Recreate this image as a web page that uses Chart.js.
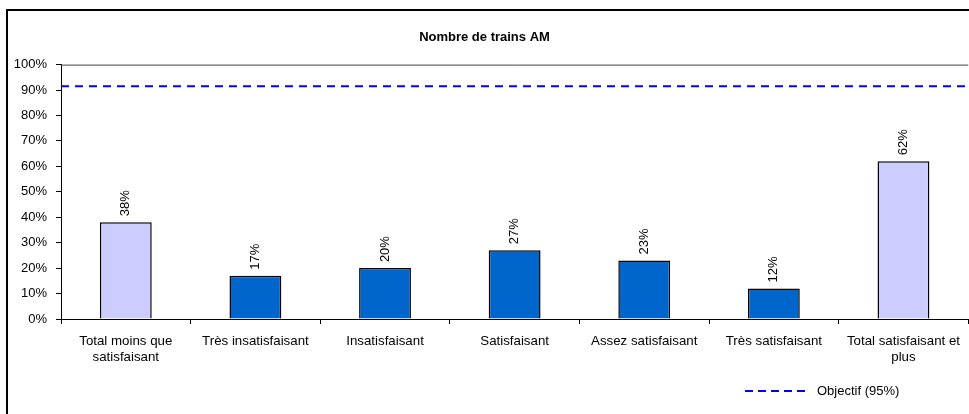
<!DOCTYPE html>
<html>
<head>
<meta charset="utf-8">
<script src="https://cdn.jsdelivr.net/npm/chart.js@4.4.0/dist/chart.umd.min.js"></script>
<style>
  html, body { margin: 0; padding: 0; background: #fff; }
  #wrap { width: 969px; height: 414px; }
</style>
</head>
<body>
<div id="wrap"><canvas id="canvas" width="969" height="414"></canvas></div>
<script>
// data
var categories = [
    ["Total moins que", "satisfaisant"],
    "Très insatisfaisant",
    "Insatisfaisant",
    "Satisfaisant",
    "Assez satisfaisant",
    "Très satisfaisant",
    ["Total satisfaisant et", "plus"]
];
var values = [38, 17, 20, 27, 23, 12, 62];
var isTotal = [true, false, false, false, false, false, true];
var objectif = 91.5;
var objectifLabel = "Objectif (95%)";
var chartTitle = "Nombre de trains AM";

var FONT = "'Liberation Sans', Arial, sans-serif";
Chart.defaults.font.family = FONT;
Chart.defaults.font.size = 13;
Chart.defaults.color = "#000";

var barColors = isTotal.map(function (t) { return t ? "#CCCCFF" : "#0066CC"; });

// frame, plot top line, data labels and legend
var decor = {
    id: "decor",
    beforeDraw: function (chart) {
        var ctx = chart.ctx;
        ctx.save();
        ctx.fillStyle = "#fff";
        ctx.fillRect(0, 0, chart.width, chart.height);
        ctx.strokeStyle = "#000";
        ctx.lineWidth = 2;
        ctx.beginPath();
        ctx.moveTo(7, chart.height);
        ctx.lineTo(7, 10);
        ctx.lineTo(chart.width, 10);
        ctx.stroke();
        ctx.restore();
    },
    afterDraw: function (chart) {
        var ctx = chart.ctx;
        var area = chart.chartArea;
        ctx.save();
        ctx.strokeStyle = "#444";
        ctx.lineWidth = 1;
        ctx.beginPath();
        ctx.moveTo(area.left, area.top + 0.5);
        ctx.lineTo(area.right, area.top + 0.5);
        ctx.stroke();

        // rotated value labels
        var meta = chart.getDatasetMeta(0);
        ctx.fillStyle = "#000";
        ctx.font = "13px " + FONT;
        ctx.textAlign = "left";
        ctx.textBaseline = "middle";
        meta.data.forEach(function (bar, i) {
            ctx.save();
            ctx.translate(bar.x, bar.y - 6);
            ctx.rotate(-Math.PI / 2);
            ctx.fillText(values[i] + "%", 0, 0);
            ctx.restore();
        });

        // legend
        var ds = chart.data.datasets[1];
        ctx.strokeStyle = ds.borderColor;
        ctx.lineWidth = 2;
        ctx.setLineDash([8, 5]);
        ctx.beginPath();
        ctx.moveTo(745, 391);
        ctx.lineTo(808, 391);
        ctx.stroke();
        ctx.setLineDash([]);
        ctx.fillText(objectifLabel, 817, 391);
        ctx.restore();
    }
};

var config = {
    type: "bar",
    data: {
        labels: categories,
        datasets: [{
            label: "Valeurs",
            data: values,
            backgroundColor: barColors,
            borderColor: "#000",
            borderWidth: 1.5,
            barPercentage: 0.4,
            categoryPercentage: 1.0,
            grouped: false
        }, {
            type: "line",
            label: objectifLabel,
            data: [{x: 0, y: objectif}, {x: 1, y: objectif}],
            xAxisID: "x2",
            borderColor: "#0000FF",
            borderWidth: 2,
            borderDash: [8, 6],
            pointRadius: 0,
            fill: false
        }]
    },
    options: {
        responsive: false,
        animation: false,
        layout: { padding: { left: 0, right: 0, top: 0, bottom: 0 } },
        plugins: {
            legend: { display: false },
            tooltip: { enabled: false },
            title: {
                display: true,
                text: chartTitle,
                font: { size: 13, weight: "bold" },
                color: "#000",
                padding: { top: 30, bottom: 19 }
            }
        },
        scales: {
            x: {
                type: "category",
                offset: true,
                border: { color: "#000", width: 1 },
                grid: { offset: true, drawOnChartArea: false, drawTicks: true, tickLength: 5, color: "#000" },
                ticks: { padding: 9, maxRotation: 0, autoSkip: false, color: "#000", font: { size: 13.3 } },
                afterFit: function (scale) { scale.height = 95; }
            },
            x2: {
                type: "linear",
                display: false,
                offset: false,
                grid: { offset: false },
                min: 0,
                max: 1
            },
            y: {
                min: 0,
                max: 100,
                border: { color: "#000", width: 1 },
                grid: { drawOnChartArea: false, drawTicks: true, tickLength: 5, color: "#000" },
                ticks: {
                    stepSize: 10,
                    padding: 9,
                    color: "#000",
                    font: { size: 13 },
                    callback: function (v) { return v + "%"; }
                },
                afterFit: function (scale) { scale.width = 61; }
            }
        }
    },
    plugins: [decor]
};

var myChart = new Chart(document.getElementById("canvas").getContext("2d"), config);
</script>
</body>
</html>
